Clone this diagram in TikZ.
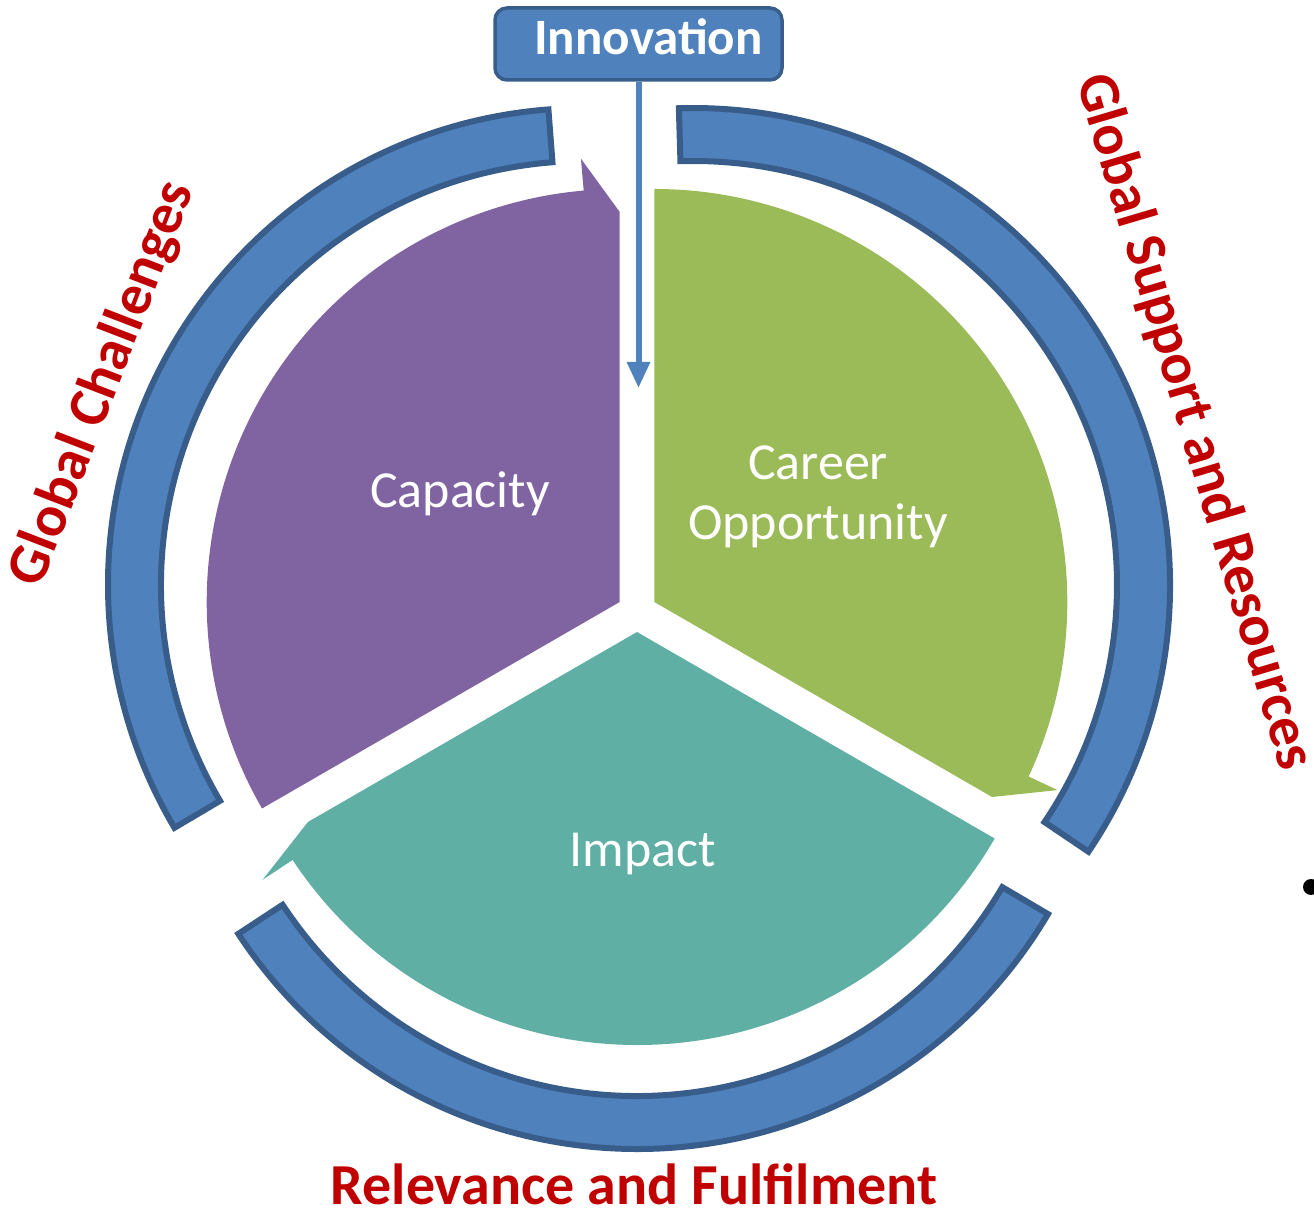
\documentclass[tikz,border=0pt]{standalone}
\usepackage{fontspec}
\setmainfont{Carlito}
\usepackage{tikz}
\usetikzlibrary{arrows.meta,positioning,calc}
\definecolor{bandblue}{HTML}{4F81BD}
\definecolor{bandline}{HTML}{385D8A}
\definecolor{cappurple}{HTML}{8064A2}
\definecolor{cargreen}{HTML}{9BBB59}
\definecolor{impteal}{HTML}{5FAFA5}
\definecolor{labelred}{HTML}{C00000}

\begin{document}
\begin{tikzpicture}[
  x=1pt, y=1pt,
  band/.style={fill=bandblue,draw=bandline,line width=6pt,line join=miter},
  seglabel/.style={text=white,align=center,
                   font=\fontsize{52pt}{60pt}\selectfont},
  ringlabel/.style={text=labelred,font=\bfseries\fontsize{58pt}{64pt}\selectfont},
  innobox/.style={rectangle,rounded corners=12pt,draw=bandline,fill=bandblue,
                  line width=3.5pt,minimum width=287pt,minimum height=72pt},
  innotext/.style={text=white,font=\bfseries\fontsize{51pt}{60pt}\selectfont},
  arr/.style={-{Triangle[length=26pt,width=22pt]},line width=6pt,color=bandblue}
]
  \useasboundingbox (0,0) rectangle (1314,1212);

  % outer rings
  \foreach \cx/\cy/\s/\e in {585/627/94.4/210.6, 693/627/-34/91.7, 637/540/213.3/329.5}
    \filldraw[band,shift={(\cx,\cy)}] (\s:477) arc[start angle=\s,end angle=\e,radius=477]
      -- (\e:424) arc[start angle=\e,end angle=\s,radius=424] -- cycle;

  % cycle segments (apex, tail angle, head angle, tip radius, barb offset, barb radius)
  \foreach \ax/\ay/\a/\b/\t/\d/\br/\col in {619.7/610/210/90/390/5/445/cappurple,
                                          654.3/610/90/-30/390/5/445/cargreen,
                                          637/580/330/210/380/3.5/449/impteal}
    \fill[\col,shift={(\ax,\ay)}] (0,0) -- (\b:\t) -- ({\b+\d}:\br) -- ({\b+\d}:413)
      arc[start angle=\b+\d,end angle=\a,radius=413] -- cycle;

  \node[seglabel] (capacity) at (460,718) {Capacity};
  \node[seglabel] (career)   at (818,715) {Career\\Opportunity};
  \node[seglabel] (impact)   at (643,358) {Impact};

  \node[innobox] (inno) at (638.5,1168) {};
  \node[innotext] (innolabel) at ([xshift=10pt,yshift=7pt]inno.center) {Innovation};
  \coordinate (drop) at (638.5,824);
  \draw[arr] (inno) -- (drop);

  \node[ringlabel,rotate=69]    (challenges) at (103,828)  {Global Challenges};
  \node[ringlabel,rotate=-73.5] (support)    at (1194,790) {Global Support and Resources};
  \node[ringlabel]              (relevance)  at (634,28)   {Relevance and Fulfilment};

  \fill[black] (1311,325) circle[radius=8];
\end{tikzpicture}
\end{document}
